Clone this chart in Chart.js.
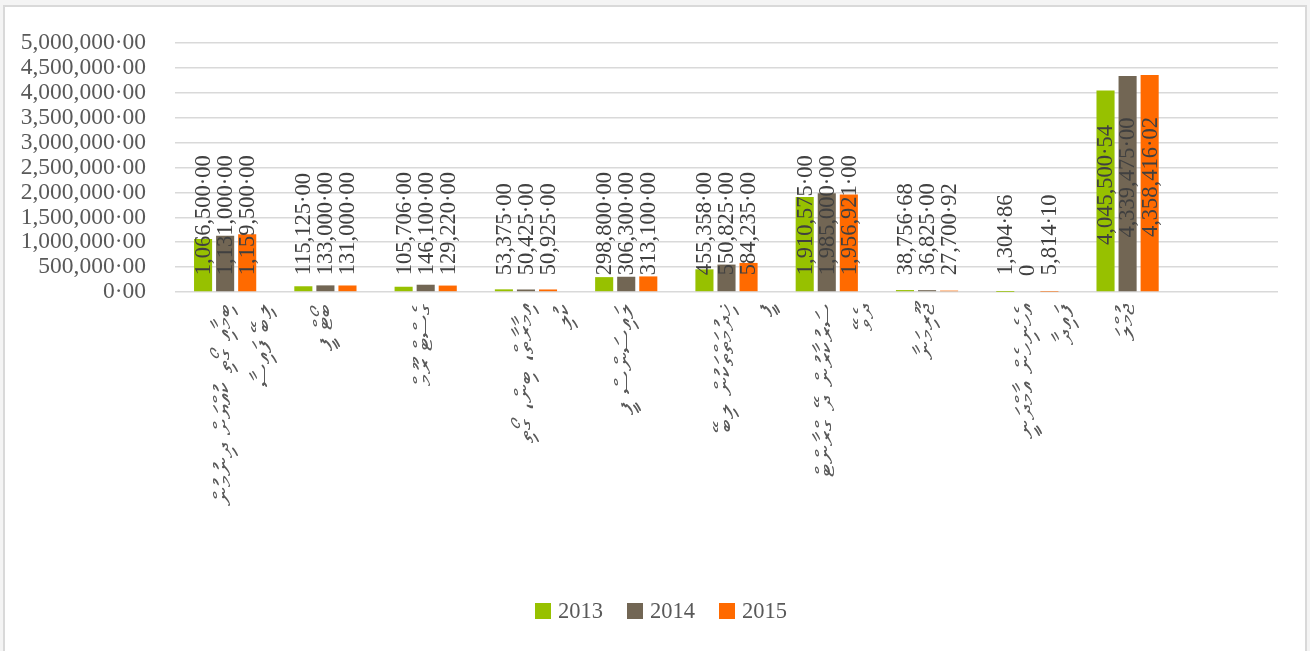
<!DOCTYPE html>
<html>
<head>
<meta charset="utf-8">
<title>Chart</title>
<script src="https://cdn.jsdelivr.net/npm/chart.js@4.4.0/dist/chart.umd.min.js"></script>
<style>
  html, body { margin: 0; padding: 0; background: #f4f4f4; overflow: hidden; }
  #frame { position: absolute; left: 3px; top: 5px; width: 1304px; height: 660px; box-sizing: border-box; border: 2px solid #d9d9d9; background: #ffffff; }
  #wrap { position: absolute; left: 0; top: 0; width: 1310px; height: 651px; }
</style>
</head>
<body>
<div id="frame"></div>
<div id="wrap"><canvas id="chart1"></canvas></div>
<script>
// categories (Dhivehi), last one left blank as in the source sheet
const categories = [
    ['ބިމާއި ގޯތި ކުއްޔަށް ދިނުމުން', 'ލިބޭ ފައިސާ'],
    'ބޯޓް ފީ',
    'ގެސްޓް ރޫމް',
    ['އިމާރާތް، ބިން، ގޯތި', 'ކުލި'],
    'ލައިސަންސް ފީ',
    ['ޚިދުމަތްތަކުން ލިބޭ', 'ފީ'],
    ['ސަރުކާރުން ދޭ ގްރާންޓް', 'ދެވޭ'],
    'ޖޫރިމަނާ',
    ['އެހެނިހެން އާމްދަނީ', 'ފައިދާ'],
    'ޖުމްލަ',
    ''
];
const years = ['2013', '2014', '2015'];
const values2013 = [1066500, 115125, 105706, 53375, 298800, 455358, 1910575, 38756.68, 1304.86, 4045500.54, null];
const values2014 = [1131000, 133000, 146100, 50425, 306300, 550825, 1985000, 36825, 0, 4339475, null];
const values2015 = [1159500, 131000, 129220, 50925, 313100, 584235, 1956921, 27700.92, 5814.10, 4358416.02, null];
const yTicks = [0, 500000, 1000000, 1500000, 2000000, 2500000, 3000000, 3500000, 4000000, 4500000, 5000000];

const seriesColors = ['#97c100', '#726654', '#ff6a00'];
const serif = '"Liberation Serif", "Times New Roman", serif';

function money(v) {
    return v.toLocaleString('en-US', { minimumFractionDigits: 2, maximumFractionDigits: 2 }).replace('.', '·');
}
function valueText(v) {
    return v === 0 ? '0' : money(v);
}

// value labels, rotated, inside the bar when they fit, otherwise from the base up
const barValueLabels = {
    id: 'barValueLabels',
    afterDatasetsDraw(chart) {
        const ctx = chart.ctx;
        ctx.save();
        ctx.font = '22.5px ' + serif;
        ctx.fillStyle = '#404040';
        ctx.textAlign = 'center';
        ctx.textBaseline = 'middle';
        chart.data.datasets.forEach((ds, i) => {
            chart.getDatasetMeta(i).data.forEach((bar, j) => {
                const v = ds.data[j];
                if (v === null || v === undefined) return;
                const txt = valueText(v);
                const w = ctx.measureText(txt).width;
                const h = bar.base - bar.y;
                const cy = h > w + 40 ? (bar.y + bar.base) / 2 - 6 : bar.base - 16 - w / 2;
                ctx.save();
                ctx.translate(bar.x + 1, cy);
                ctx.rotate(-Math.PI / 2);
                ctx.fillText(txt, 0, 0);
                ctx.restore();
            });
        });
        ctx.restore();
    }
};

// legend row drawn under the axis labels
const legendRow = {
    id: 'legendRow',
    afterDraw(chart) {
        const ctx = chart.ctx;
        ctx.save();
        ctx.font = '22.5px ' + serif;
        ctx.textBaseline = 'middle';
        const box = 16, gap = 7, space = 24;
        const items = chart.data.datasets.map(ds => ({ label: ds.label, color: ds.backgroundColor, w: ctx.measureText(ds.label).width }));
        let total = 0;
        items.forEach((it, k) => { total += box + gap + it.w + (k ? space : 0); });
        let x = chart.width / 2 + 6 - total / 2;
        const cy = 611;
        items.forEach(it => {
            ctx.fillStyle = it.color;
            ctx.fillRect(x, cy - box / 2, box, box);
            ctx.fillStyle = '#595959';
            ctx.fillText(it.label, x + box + gap, cy + 1);
            x += box + gap + it.w + space;
        });
        ctx.restore();
    }
};

document.addEventListener("DOMContentLoaded", function() {
    let chart1 = new Chart(document.getElementById('chart1'), {
        type: 'bar',
        data: {
            labels: categories,
            datasets: [
                { label: years[0], data: values2013, backgroundColor: seriesColors[0] },
                { label: years[1], data: values2014, backgroundColor: seriesColors[1] },
                { label: years[2], data: values2015, backgroundColor: seriesColors[2] }
            ]
        },
        options: {
            responsive: true,
            maintainAspectRatio: false,
            animation: false,
            layout: { padding: { top: 38, right: 32, bottom: 0, left: 0 } },
            datasets: { bar: { categoryPercentage: 0.66, barPercentage: 0.82 } },
            plugins: {
                legend: { display: false },
                tooltip: { enabled: false }
            },
            scales: {
                x: {
                    grid: { display: false, drawTicks: false },
                    border: { display: false },
                    ticks: {
                        autoSkip: false,
                        minRotation: 90,
                        maxRotation: 90,
                        padding: 12,
                        color: '#595959',
                        font: { family: '"DejaVu Sans", sans-serif', size: 26, lineHeight: 1.5 }
                    },
                    afterFit: function(scale) { scale.height = 359; }
                },
                y: {
                    min: 0,
                    max: 5000000,
                    afterBuildTicks: function(scale) { scale.ticks = yTicks.map(v => ({ value: v })); },
                    grid: { color: '#d9d9d9', lineWidth: 1.6, drawTicks: false },
                    border: { display: false },
                    ticks: {
                        autoSkip: false,
                        padding: 29,
                        color: '#595959',
                        font: { family: serif, size: 23.5 },
                        callback: function(v) { return money(v); }
                    },
                    afterFit: function(scale) { scale.width = 175; }
                }
            }
        },
        plugins: [barValueLabels, legendRow]
    });
    console.log("Chart initialized:", chart1.chartArea);
});
</script>
</body>
</html>
